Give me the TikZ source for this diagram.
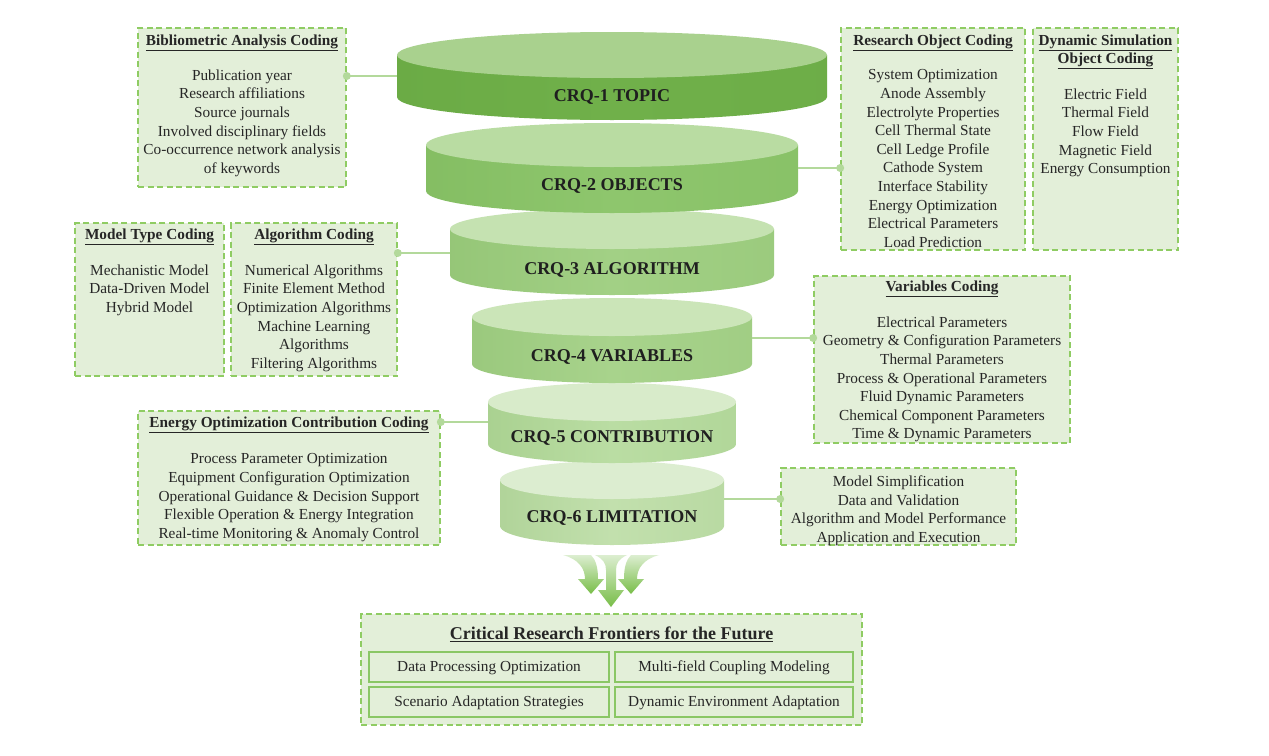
\documentclass[tikz,border=0pt]{standalone}
\usepackage{fontspec}
\setmainfont{Liberation Serif}
\usetikzlibrary{calc}
\definecolor{boxfill}{HTML}{E3EFD9}
\definecolor{boxline}{HTML}{8FCC63}
\definecolor{subline}{HTML}{8AC765}
\definecolor{connc}{HTML}{B3D99B}
\definecolor{txt}{HTML}{262626}
\definecolor{dkg}{HTML}{4E8F2A}
\definecolor{ctopA}{HTML}{A9D18E}\definecolor{csideA}{HTML}{70B04A}
\definecolor{ctopB}{HTML}{B9DCA2}\definecolor{csideB}{HTML}{8EC66D}
\definecolor{ctopC}{HTML}{C5E2B1}\definecolor{csideC}{HTML}{A2D085}
\definecolor{ctopD}{HTML}{CBE5B8}\definecolor{csideD}{HTML}{A8D38C}
\definecolor{ctopE}{HTML}{D8EBCA}\definecolor{csideE}{HTML}{BADDA3}
\definecolor{ctopF}{HTML}{DCEDD0}\definecolor{csideF}{HTML}{C2E0AD}
\definecolor{arrtop}{HTML}{DCEED0}
\definecolor{arrbot}{HTML}{78BD48}
\tikzset{
  codebox/.style={draw=boxline, fill=boxfill, dash pattern=on 6pt off 3.5pt, line width=1.6pt, inner sep=0pt},
  titletext/.style={font=\fontsize{15.3}{18.6}\selectfont\bfseries, text=txt, align=center, inner sep=0pt},
  itemtext/.style={font=\fontsize{15.3}{18.6}\selectfont, text=txt, align=center, inner sep=0pt, anchor=north},
  crqtext/.style={font=\fontsize{18}{20}\selectfont\bfseries, text=black!88},
  conn/.style={draw=connc, line width=1.5pt},
  dotc/.style={fill=connc},
  subbox/.style={draw=subline, fill=boxfill, line width=1.5pt, inner sep=0pt, text height=12pt, text depth=2.5pt, font=\fontsize{15.3}{18.6}\selectfont, text=txt},
  arrowshape/.style={top color=arrtop, bottom color=arrbot, draw=none},
}
\newcommand{\crqcyl}[9]{%
  \shade[left color=#7!85!dkg, right color=#7!92!dkg, middle color=#7] (612-#4,-#2) -- (612-#4,-#3) arc[start angle=180, end angle=360, x radius=#4, y radius=#5] -- (612+#4,-#2) -- cycle;
  \fill[#6] (612,-#2) ellipse[x radius=#4, y radius=#5];
  \node[crqtext] (#1) at (612,-#8) {#9};
}
\begin{document}
\begin{tikzpicture}[x=1pt,y=1pt]
\useasboundingbox[fill=white] (0,0) rectangle (1269,-755);

% cylinders (bottom first)
\crqcyl{crq6}{480}{526}{112}{19}{ctopF}{csideF}{518}{CRQ-6 LIMITATION}
\crqcyl{crq5}{402}{444}{124}{19}{ctopE}{csideE}{438}{CRQ-5 CONTRIBUTION}
\crqcyl{crq4}{317}{364}{140}{19}{ctopD}{csideD}{357}{CRQ-4 VARIABLES}
\crqcyl{crq3}{229}{275}{162}{20}{ctopC}{csideC}{270}{CRQ-3 ALGORITHM}
\crqcyl{crq2}{145}{191}{186}{22}{ctopB}{csideB}{186}{CRQ-2 OBJECTS}
\crqcyl{crq1}{55}{97}{215}{23}{ctopA}{csideA}{97}{CRQ-1 TOPIC}

% boxes
\node[codebox, minimum width=208pt, minimum height=159pt] (bib) at (242,-107.5) {};
\node[titletext] (bibT) at (242,-43) {\underline{Bibliometric Analysis Coding}};
\node[itemtext] (bibI) at (242,-69.5) {Publication year\\Research affiliations\\Source journals\\Involved disciplinary fields\\Co-occurrence network analysis\\of keywords};

\node[codebox, minimum width=184pt, minimum height=222pt] (obj) at (933,-139) {};
\node[titletext] (objT) at (933,-43) {\underline{Research Object Coding}};
\node[itemtext] (objI) at (933,-69.5) {System Optimization\\Anode Assembly\\Electrolyte Properties\\Cell Thermal State\\Cell Ledge Profile\\Cathode System\\Interface Stability\\Energy Optimization\\Electrical Parameters\\Load Prediction};

\node[codebox, minimum width=145pt, minimum height=222pt] (dyn) at (1105.5,-139) {};
\node[titletext] (dynT) at (1105.5,-52) {\underline{Dynamic Simulation}\\\underline{Object Coding}};
\node[itemtext] (dynI) at (1105.5,-88.5) {Electric Field\\Thermal Field\\Flow Field\\Magnetic Field\\Energy Consumption};

\node[codebox, minimum width=149pt, minimum height=153pt] (mod) at (149.5,-299.5) {};
\node[titletext] (modT) at (149.5,-237) {\underline{Model Type Coding}};
\node[itemtext] (modI) at (149.5,-264.5) {Mechanistic Model\\Data-Driven Model\\Hybrid Model};

\node[codebox, minimum width=166pt, minimum height=153pt] (alg) at (314,-299.5) {};
\node[titletext] (algT) at (314,-237) {\underline{Algorithm Coding}};
\node[itemtext] (algI) at (314,-264.5) {Numerical Algorithms\\Finite Element Method\\Optimization Algorithms\\Machine Learning\\Algorithms\\Filtering Algorithms};

\node[codebox, minimum width=256pt, minimum height=167pt] (var) at (942,-359.5) {};
\node[titletext] (varT) at (942,-289) {\underline{Variables Coding}};
\node[itemtext] (varI) at (942,-316.5) {Electrical Parameters\\Geometry \& Configuration Parameters\\Thermal Parameters\\Process \& Operational Parameters\\Fluid Dynamic Parameters\\Chemical Component Parameters\\Time \& Dynamic Parameters};

\node[codebox, minimum width=302pt, minimum height=134pt] (ene) at (289,-478) {};
\node[titletext] (eneT) at (289,-425) {\underline{Energy Optimization Contribution Coding}};
\node[itemtext] (eneI) at (289,-453.5) {Process Parameter Optimization\\Equipment Configuration Optimization\\Operational Guidance \& Decision Support\\Flexible Operation \& Energy Integration\\Real-time Monitoring \& Anomaly Control};

\node[codebox, minimum width=235pt, minimum height=77pt] (lim) at (898.5,-506.5) {};
\node[itemtext] (limI) at (898.5,-475.5) {Model Simplification\\Data and Validation\\Algorithm and Model Performance\\Application and Execution};

% connectors
\coordinate (a1) at (bib.east |- 0,-76);   \coordinate (b1) at (397,-76);
\coordinate (a2) at (obj.west |- 0,-168);  \coordinate (b2) at (798,-168);
\coordinate (a3) at (alg.east |- 0,-253);  \coordinate (b3) at (450,-253);
\coordinate (a4) at (var.west |- 0,-338);  \coordinate (b4) at (752,-338);
\coordinate (a5) at (ene.east |- 0,-422);  \coordinate (b5) at (488,-422);
\coordinate (a6) at (lim.west |- 0,-499);  \coordinate (b6) at (724,-499);
\foreach \i in {1,...,6}{
  \draw[conn] (a\i) -- (b\i);
  \fill[dotc] (a\i) circle[radius=4pt];
}

% arrows
\shade[arrowshape] (563,-555) -- (591,-555) .. controls (596,-560) and (598,-568) .. (598,-579) -- (604,-579) -- (591,-594) -- (578,-579) -- (585,-579) .. controls (585,-568) and (578,-559) .. (563,-555) -- cycle;
\shade[arrowshape] (659,-555) -- (631,-555) .. controls (626,-560) and (624,-568) .. (624,-579) -- (618,-579) -- (631,-594) -- (644,-579) -- (637,-579) .. controls (637,-568) and (644,-559) .. (659,-555) -- cycle;
\shade[arrowshape] (595,-555) -- (627,-555) .. controls (619,-559) and (616,-563) .. (616,-570) -- (616,-590) -- (624,-590) -- (611,-607) -- (598,-590) -- (606,-590) -- (606,-570) .. controls (606,-563) and (603,-559) .. (595,-555) -- cycle;

% frontiers
\node[codebox, minimum width=501pt, minimum height=111pt] (front) at (611.5,-669.5) {};
\node[titletext, font=\fontsize{18}{20}\selectfont\bfseries] (frontT) at (611.5,-634) {\underline{Critical Research Frontiers for the Future}};
\node[subbox, minimum width=240pt, minimum height=30pt] (f1) at (489,-667) {Data Processing Optimization};
\node[subbox, minimum width=238pt, minimum height=30pt] (f2) at (734,-667) {Multi-field Coupling Modeling};
\node[subbox, minimum width=240pt, minimum height=30pt] (f3) at (489,-702) {Scenario Adaptation Strategies};
\node[subbox, minimum width=238pt, minimum height=30pt] (f4) at (734,-702) {Dynamic Environment Adaptation};
\end{tikzpicture}
\end{document}
